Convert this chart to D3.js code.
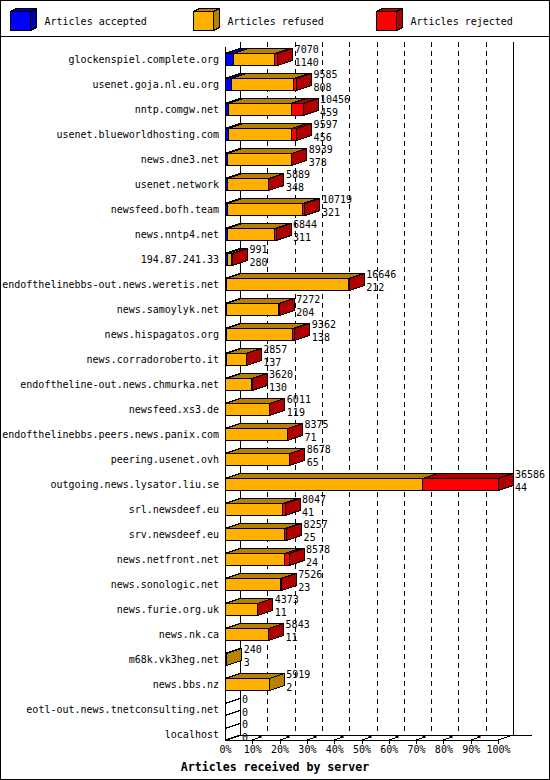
<!DOCTYPE html>
<html>
<head>
<meta charset="utf-8">
<script src="https://cdn.jsdelivr.net/npm/d3@7"></script>
<style>
  body { margin: 0; background: #fff; }
  svg { display: block; font-family: "DejaVu Sans Mono", monospace; }
</style>
</head>
<body>
<svg width="550" height="780"></svg>
<script>
    const servers = [
      "glockenspiel.complete.org", "usenet.goja.nl.eu.org", "nntp.comgw.net",
      "usenet.blueworldhosting.com", "news.dne3.net", "usenet.network",
      "newsfeed.bofh.team", "news.nntp4.net", "194.87.241.33",
      "endofthelinebbs-out.news.weretis.net", "news.samoylyk.net", "news.hispagatos.org",
      "news.corradoroberto.it", "endoftheline-out.news.chmurka.net", "newsfeed.xs3.de",
      "endofthelinebbs.peers.news.panix.com", "peering.usenet.ovh", "outgoing.news.lysator.liu.se",
      "srl.newsdeef.eu", "srv.newsdeef.eu", "news.netfront.net",
      "news.sonologic.net", "news.furie.org.uk", "news.nk.ca",
      "m68k.vk3heg.net", "news.bbs.nz", "eotl-out.news.tnetconsulting.net", "localhost"
    ];
    // top label = articles offered, bottom label = articles accepted
    const offered = [7070, 9585, 10456, 9597, 8939, 5889, 10719, 6844, 991, 16646, 7272, 9362, 2857, 3620,
      6011, 8375, 8678, 36586, 8047, 8257, 8578, 7526, 4373, 5843, 240, 5919, 0, 0];
    const accepted = [1140, 808, 459, 456, 378, 348, 321, 311, 280, 212, 204, 138, 137, 130,
      119, 71, 65, 44, 41, 25, 24, 23, 11, 11, 3, 2, 0, 0];
    // rejected read off the red segments (estimated)
    const rejected = [450, 400, 1600, 670, 40, 40, 300, 230, 150, 40, 40, 250, 30, 30,
      60, 40, 40, 10150, 320, 300, 650, 40, 30, 30, 0, 0, 0, 0];

    const seriesNames = ["Articles accepted", "Articles refused", "Articles rejected"];
    const frontColors = ["#0000ff", "#ffb000", "#ff0000"];
    const sideColors = ["#0000b0", "#b88000", "#b00000"];
    const percentTicks = [0, 10, 20, 30, 40, 50, 60, 70, 80, 90, 100];

    const svg = d3.select("svg");
    const DX = 15, DY = 5, HALF = 6;
    const TOP = 42, FLOOR = 740;

    const x = d3.scaleLinear().domain([0, d3.max(offered)]).range([225, 498]);
    const xp = d3.scaleLinear().domain([0, 100]).range([225, 498]);
    const y = d3.scalePoint().domain(servers).range([59.5, 734.5]);

    const line = (x1, y1, x2, y2) => svg.append("line")
      .attr("x1", x1).attr("y1", y1).attr("x2", x2).attr("y2", y2)
      .attr("stroke", "#000").attr("shape-rendering", "crispEdges");

    const poly = (pts, fill) => svg.append("polygon")
      .attr("points", pts.map(p => p.join(",")).join(" "))
      .attr("fill", fill).attr("stroke", "#000")
      .attr("shape-rendering", "crispEdges");

    // frame + legend
    svg.append("rect").attr("x", 0.5).attr("y", 0.5).attr("width", 549).attr("height", 779)
      .attr("fill", "#fff").attr("stroke", "#000");
    line(0, 36.5, 550, 36.5);

    seriesNames.forEach((name, i) => {
      const lx = 10.5 + 183 * i;
      poly([[lx, 11.5], [lx + 6, 8.5], [lx + 26, 8.5], [lx + 20, 11.5]], sideColors[i]);
      poly([[lx + 20, 11.5], [lx + 26, 8.5], [lx + 26, 27.5], [lx + 20, 30.5]], sideColors[i]);
      poly([[lx, 11.5], [lx + 20, 11.5], [lx + 20, 30.5], [lx, 30.5]], frontColors[i]);
      svg.append("text").attr("x", lx + 34).attr("y", 25)
        .attr("font-size", 10).text(name);
    });

    // back walls and grid
    percentTicks.forEach(p => {
      const gx = Math.round(xp(p) + DX) + 0.5;
      const l = line(gx, TOP, gx, FLOOR - DY);
      if (p > 0 && p < 100) l.attr("stroke-dasharray", "5,4");
    });
    line(225.5, TOP + DY, 225.5, FLOOR);

    // floor
    line(240, FLOOR - DY + 0.5, 532, FLOOR - DY + 0.5);
    line(225, FLOOR + 0.5, 498, FLOOR + 0.5);
    line(225, FLOOR, 240, FLOOR - DY);
    line(498, FLOOR, 513, FLOOR - DY);

    // bars
    servers.forEach((s, i) => {
      const cy = y(s);
      const t = cy - HALF, b = cy + HALF;
      if (offered[i] === 0) {
        line(225, t, 240, t - DY);
        line(225, b, 240, b - DY);
      } else {
        const parts = [accepted[i], offered[i] - accepted[i] - rejected[i], rejected[i]];
        let start = 0;
        parts.forEach((v, j) => {
          if (v <= 0) return;
          const x0 = x(start), x1 = x(start + v);
          start += v;
          poly([[x0, t], [x1, t], [x1 + DX, t - DY], [x0 + DX, t - DY]], sideColors[j]);
          poly([[x1, t], [x1 + DX, t - DY], [x1 + DX, b - DY], [x1, b]], sideColors[j]);
          poly([[x0, t], [x1, t], [x1, b], [x0, b]], frontColors[j]);
        });
      }
      svg.append("text").attr("x", 219).attr("y", cy + 3.5)
        .attr("text-anchor", "end").attr("font-size", 10).text(s);
      const nx = x(offered[i]) + DX + 2;
      svg.append("text").attr("x", nx).attr("y", cy - 6.5).attr("font-size", 10).text(offered[i]);
      svg.append("text").attr("x", nx).attr("y", cy + 6.5).attr("font-size", 10).text(accepted[i]);
    });

    // percent axis
    const axis = d3.axisBottom(xp).tickValues(percentTicks).tickFormat(d => d + "%")
      .tickSizeInner(4).tickSizeOuter(0).tickPadding(2);
    const gAxis = svg.append("g").attr("transform", `translate(0,${FLOOR})`).call(axis)
      .attr("font-family", "DejaVu Sans Mono, monospace").attr("font-size", 10);
    gAxis.select(".domain").remove();
    gAxis.selectAll(".tick line").attr("shape-rendering", "crispEdges")
      .filter(d => d === 0).remove();
    gAxis.selectAll(".tick text").attr("fill", "#000");

    percentTicks.filter(p => p > 0 && p < 100).forEach(p => {
      const tx = Math.round(xp(p)) + 0.5;
      line(tx, FLOOR, tx + 8, FLOOR - 3);
      svg.append("rect").attr("x", tx + 6).attr("y", FLOOR - 4).attr("width", 3).attr("height", 2)
        .attr("fill", "#000");
    });

    svg.append("text").attr("x", 275).attr("y", 771).attr("text-anchor", "middle")
      .attr("font-size", 11.6).attr("font-weight", "bold")
      .text("Articles received by server");
</script>
</body>
</html>
